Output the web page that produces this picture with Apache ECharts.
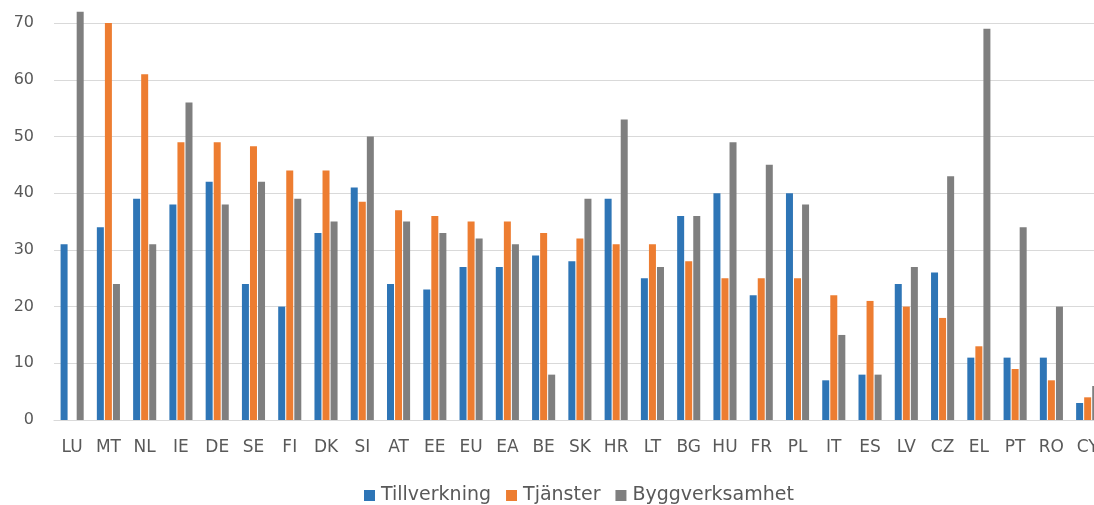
<!DOCTYPE html>
<html>
<head>
<meta charset="utf-8">
<script src="https://cdn.jsdelivr.net/npm/echarts@6/dist/echarts.min.js"></script>
<style>
html,body{margin:0;padding:0;background:#fff;}
#chart{width:1094px;height:505px;}
</style>
</head>
<body>
<div id="chart"></div>
<script>
var categories = ['LU','MT','NL','IE','DE','SE','FI','DK','SI','AT','EE','EU','EA','BE','SK','HR','LT','BG','HU','FR','PL','IT','ES','LV','CZ','EL','PT','RO','CY'];
var tillverkning = [31,34,39,38,42,24,20,33,41,24,23,27,27,29,28,39,25,36,40,22,40,7,8,24,26,11,11,11,3];
var tjanster = [null,70,61,49,49,48.3,44,44,38.5,37,36,35,35,33,32,31,31,28,25,25,25,22,21,20,18,13,9,7,4];
var byggverksamhet = [72,24,31,56,38,42,39,35,50,35,33,32,31,8,39,53,27,36,49,45,38,15,8,27,43,69,34,20,6];
var seriesNames = ['Tillverkning','Tjänster','Byggverksamhet'];

var font = 'DejaVu Sans';
var textColor = '#595959';
var chart = echarts.init(document.getElementById('chart'));
function bar(name, data, color) {
  return {
    name: name, type: 'bar', data: data,
    barWidth: 7, barGap: '15%',
    itemStyle: { color: color },
    emphasis: { disabled: true }
  };
}
chart.setOption({
  animation: false,
  grid: { left: 54, top: -33.6, width: 1051.8, height: 453.6, outerBoundsMode: 'none', containLabel: false },
  legend: {
    left: 359, top: 481,
    itemWidth: 11, itemHeight: 11, itemGap: 15,
    icon: 'rect',
    textStyle: { fontFamily: font, fontSize: 19, color: textColor, padding: [0,0,0,1] },
    data: seriesNames
  },
  xAxis: {
    type: 'category', data: categories,
    axisLine: { show: true, lineStyle: { color: '#d9d9d9', width: 1.2 } },
    axisTick: { show: false },
    axisLabel: { fontFamily: font, fontSize: 17, color: textColor, margin: 19, interval: 0 }
  },
  yAxis: {
    type: 'value', min: 0, max: 80, interval: 10,
    axisLine: { show: false }, axisTick: { show: false },
    splitLine: { lineStyle: { color: '#d9d9d9', width: 1.2 } },
    axisLabel: { fontFamily: font, fontSize: 16, color: textColor, margin: 20 }
  },
  series: [
    bar(seriesNames[0], tillverkning, '#2E75B6'),
    bar(seriesNames[1], tjanster, '#ED7D31'),
    bar(seriesNames[2], byggverksamhet, '#7F7F7F')
  ]
});
</script>
</body>
</html>
